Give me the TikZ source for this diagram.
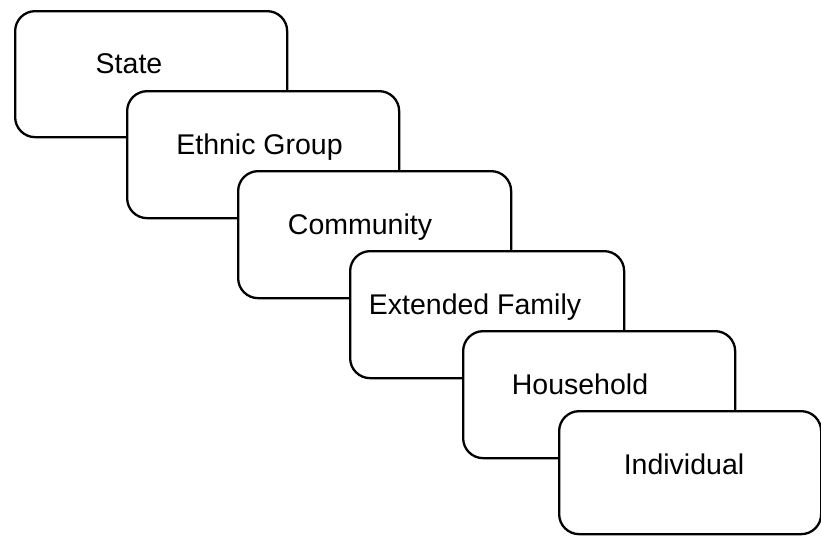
\documentclass[tikz,border=0pt]{standalone}
\usepackage{fontspec}
\setmainfont{Liberation Sans}
\begin{document}
\begin{tikzpicture}[x=1pt,y=-1pt,
  box/.style={draw=black, fill=white, line width=2.3pt, rounded corners=20pt, inner sep=0pt, anchor=north west, minimum height=126pt},
  lbl/.style={anchor=base, inner sep=0pt, font=\fontsize{28.5pt}{34pt}\selectfont}]
\useasboundingbox (0,0) rectangle (821,536);
\node[box, minimum width=272pt] (b1) at (14,10) {};
\node[lbl] (t1) at (129,73) {State};
\node[box, minimum width=272pt, minimum height=127pt] (b2) at (126,90) {};
\node[lbl] (t2) at (259.5,154) {Ethnic Group};
\node[box, minimum width=273pt, minimum height=127pt] (b3) at (237,170) {};
\node[lbl] (t3) at (360,234) {Community};
\node[box, minimum width=274pt, minimum height=127pt] (b4) at (349,250) {};
\node[lbl] (t4) at (475,314) {Extended Family};
\node[box, minimum width=272pt, minimum height=127pt] (b5) at (462,330) {};
\node[lbl] (t5) at (580,394) {Household};
\node[box, minimum width=262pt, minimum height=123pt] (b6) at (558,410) {};
\node[lbl] (t6) at (684,474) {Individual};
\end{tikzpicture}
\end{document}
